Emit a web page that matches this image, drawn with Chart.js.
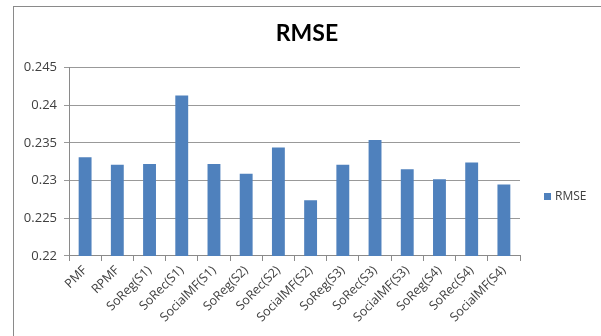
<!DOCTYPE html>
<html>
<head>
<meta charset="utf-8">
<script src="https://cdn.jsdelivr.net/npm/chart.js@4.4.1/dist/chart.umd.min.js"></script>
<style>
  html, body { margin: 0; padding: 0; background: #fff; }
  #wrap { width: 601px; height: 336px; position: relative; }
</style>
</head>
<body>
<div id="wrap"><canvas id="chart"></canvas></div>
<script>
const categories = [
  'PMF', 'RPMF', 'SoReg(S1)', 'SoRec(S1)', 'SocialMF(S1)',
  'SoReg(S2)', 'SoRec(S2)', 'SocialMF(S2)', 'SoReg(S3)', 'SoRec(S3)',
  'SocialMF(S3)', 'SoReg(S4)', 'SoRec(S4)', 'SocialMF(S4)'
];
const rmseValues = [
  0.2331, 0.2321, 0.2322, 0.2413, 0.2322,
  0.2309, 0.2344, 0.2274, 0.2321, 0.2354,
  0.2315, 0.2302, 0.2324, 0.2295
];
const yTicks = [0.22, 0.225, 0.23, 0.235, 0.24, 0.245];
const seriesName = 'RMSE';

const barColor = '#4F81BD';
const textColor = '#404040';
const fontFamily = '"Open Sans", "Liberation Sans", sans-serif';

// grey frame around the chart, like the spreadsheet chart box
const framePlugin = {
  id: 'frame',
  beforeDraw(chart) {
    const ctx = chart.ctx;
    ctx.save();
    ctx.strokeStyle = '#8a8a8a';
    ctx.lineWidth = 1;
    ctx.strokeRect(13.5, 6.5, 1000, 1000);
    ctx.restore();
  }
};

// legend to the right of the plot, box + label
const sideLegend = {
  id: 'sideLegend',
  afterDraw(chart) {
    const ctx = chart.ctx;
    const ds = chart.data.datasets[0];
    const x = chart.chartArea.right + 24;
    const y = 197;
    ctx.save();
    ctx.fillStyle = ds.backgroundColor;
    ctx.fillRect(x, y - 4, 7, 7);
    ctx.fillStyle = textColor;
    ctx.font = '12px ' + fontFamily;
    ctx.textBaseline = 'middle';
    ctx.fillText(ds.label, x + 11, y);
    ctx.restore();
  }
};

new Chart(document.getElementById('chart'), {
  type: 'bar',
  data: {
    labels: categories,
    datasets: [{
      label: seriesName,
      data: rmseValues,
      backgroundColor: barColor,
      borderWidth: 0,
      barPercentage: 0.5,
      categoryPercentage: 0.8
    }]
  },
  options: {
    responsive: true,
    maintainAspectRatio: false,
    animation: false,
    layout: {
      padding: { left: 13, right: 0, top: 0, bottom: 9 }
    },
    plugins: {
      legend: { display: false },
      tooltip: { enabled: false },
      title: {
        display: true,
        text: 'RMSE',
        color: '#000',
        font: { size: 23, weight: 'bold', family: 'Lato, sans-serif' },
        padding: { top: 20, bottom: 20 }
      }
    },
    scales: {
      x: {
        grid: {
          display: true,
          offset: true,
          drawOnChartArea: false,
          drawTicks: true,
          tickLength: 5,
          color: '#8a8a8a'
        },
        border: { display: true, color: '#8a8a8a' },
        ticks: {
          minRotation: 45,
          maxRotation: 45,
          autoSkip: false,
          padding: 2,
          color: textColor,
          font: { size: 12.5, family: fontFamily }
        }
      },
      y: {
        min: yTicks[0],
        max: yTicks[yTicks.length - 1],
        afterBuildTicks: axis => {
          axis.ticks = yTicks.map(v => ({ value: v }));
        },
        afterFit: axis => { axis.width = 56; },
        grid: {
          color: '#999',
          drawTicks: true,
          tickLength: 5
        },
        border: { display: true, color: '#8a8a8a' },
        ticks: {
          padding: 7,
          color: textColor,
          font: { size: 13, family: fontFamily },
          callback: v => String(+v.toFixed(3))
        }
      },
      // empty right-hand strip that holds the legend
      legendSpace: {
        type: 'linear',
        position: 'right',
        display: true,
        grid: { display: false },
        border: { display: false },
        ticks: { display: false },
        afterFit: axis => { axis.width = 81; }
      }
    }
  },
  plugins: [framePlugin, sideLegend]
});
</script>
</body>
</html>
